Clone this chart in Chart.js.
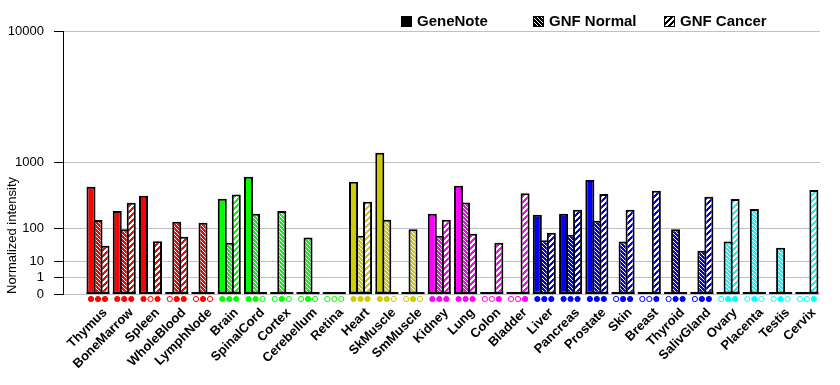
<!DOCTYPE html>
<html>
<head>
<meta charset="utf-8">
<script src="https://cdn.jsdelivr.net/npm/chart.js@4"></script>
<style>body{margin:0;background:#fff}</style>
</head>
<body>
<canvas id="chart" width="840" height="385"></canvas>
<script>
// tissues along the x axis
const tissues = ['Thymus', 'BoneMarrow', 'Spleen', 'WholeBlood', 'LymphNode',
  'Brain', 'SpinalCord', 'Cortex', 'Cerebellum', 'Retina',
  'Heart', 'SkMuscle', 'SmMuscle',
  'Kidney', 'Lung', 'Colon', 'Bladder',
  'Liver', 'Pancreas', 'Prostate', 'Skin', 'Breast', 'Thyroid', 'SalivGland',
  'Ovary', 'Placenta', 'Testis', 'Cervix'];

// normalized intensity, null = not measured
const geneNote = [508, 216, 380, null, null, 342, 682, null, null, null,
  590, 1265, null, 194, 523, null, null, 186, 194, 620,
  null, null, null, null, null, null, null, null];
const gnfNormal = [148, 95, null, 137, 131, 44, 194, 216, 60, null,
  67, 150, 95, 67, 301, null, null, 51, 71, 143,
  47, null, 95, 25, 47, 234, 31, null];
const gnfCancer = [36, 296, 48, 63, null, 397, null, null, null, null,
  307, null, null, 150, 75, 44, 412, 79, 228, 401,
  228, 447, 0, 367, 339, null, null, 458];

const yTickValues = [0, 1, 10, 100, 1000, 10000];

// colour per tissue group: [colour, number of tissues]
const groupColors = [['#ff0000', 5], ['#00ff00', 5], ['#cccc00', 3], ['#ff00ff', 4], ['#0000ff', 7], ['#00ffff', 4]];

const FONT = "'Liberation Sans', Arial, sans-serif";
// axis is a power scale: each decade takes twice the height of the one below
const POW = Math.log10(2);
const toT = v => (v === null ? null : Math.pow(v, POW));

const tissueColors = [];
groupColors.forEach(([c, n]) => { for (let i = 0; i < n; i++) tissueColors.push(c); });

function hatch(color, kind) {
  const size = kind === 'normal' ? 4 : 6;
  const c = document.createElement('canvas');
  c.width = size; c.height = size;
  const g = c.getContext('2d');
  g.fillStyle = color;
  g.fillRect(0, 0, size, size);
  g.fillStyle = '#fff';
  for (let x = 0; x < size; x++) {
    for (let y = 0; y < size; y++) {
      const on = kind === 'normal' ? (x - y + size) % size === 0 : (x + y) % size < 3;
      if (on) g.fillRect(x, y, 1, 1);
    }
  }
  return g.createPattern(c, 'repeat');
}

const series = [
  { label: 'GeneNote', values: geneNote, kind: 'solid' },
  { label: 'GNF Normal', values: gnfNormal, kind: 'normal' },
  { label: 'GNF Cancer', values: gnfCancer, kind: 'cancer' },
];

const groupMarks = {
  id: 'groupMarks',
  afterDatasetsDraw(chart) {
    const ctx = chart.ctx;
    const y0 = chart.scales.y.getPixelForValue(0);
    const metas = chart.data.datasets.map((d, k) => chart.getDatasetMeta(k));
    ctx.save();
    tissues.forEach((t, i) => {
      const first = metas[0].data[i];
      const last = metas[metas.length - 1].data[i];
      const left = first.x - first.width / 2;
      const right = last.x + last.width / 2;
      ctx.fillStyle = '#000';
      ctx.fillRect(left, y0 - 2, right - left, 2);
      metas.forEach((m, k) => {
        const el = m.data[i];
        const present = chart.data.datasets[k].raw[i] !== null;
        ctx.beginPath();
        ctx.arc(el.x, y0 + 5, 2.6, 0, Math.PI * 2);
        ctx.fillStyle = present ? tissueColors[i] : '#fff';
        ctx.fill();
        ctx.strokeStyle = tissueColors[i];
        ctx.lineWidth = 1;
        ctx.stroke();
      });
    });
    ctx.restore();
  },
  afterDraw(chart) {
    const ctx = chart.ctx;
    const legendX = [401, 533, 664];
    ctx.save();
    chart.data.datasets.forEach((d, k) => {
      const x = legendX[k], y = 16;
      ctx.fillStyle = d.kind === 'solid' ? '#000' : hatch('#000', d.kind);
      ctx.fillRect(x, y, 11, 11);
      ctx.strokeStyle = '#000';
      ctx.lineWidth = 1;
      ctx.strokeRect(x + 0.5, y + 0.5, 10, 10);
      ctx.fillStyle = '#000';
      ctx.font = 'bold 15px ' + FONT;
      ctx.textBaseline = 'middle';
      ctx.fillText(d.label, x + 16, y + 6);
    });
    ctx.restore();
  }
};

const ctx = document.getElementById('chart').getContext('2d');
const chart = new Chart(ctx, {
  type: 'bar',
  data: {
    datasets: series.map(s => ({
      label: s.label,
      data: s.values.map((v, i) => ({ x: i, y: toT(v) })),
      backgroundColor: tissueColors.map(c => (s.kind === 'solid' ? c : hatch(c, s.kind))),
      borderColor: '#000',
      borderWidth: 2,
      borderSkipped: false,
      barPercentage: 1.29,
      categoryPercentage: 0.8,
      kind: s.kind,
      raw: s.values,
    })),
  },
  options: {
    responsive: false,
    animation: false,
    layout: { padding: { top: 31, right: 20, bottom: 0, left: 0 } },
    plugins: { legend: { display: false }, tooltip: { enabled: false } },
    scales: {
      x: {
        type: 'linear',
        min: -1.333,
        max: 27.5,
        offset: false,
        afterBuildTicks: s => { s.ticks = tissues.map((t, i) => ({ value: i })); },
        afterFit: s => { s.height = 91; },
        ticks: {
          autoSkip: false,
          maxRotation: 45,
          minRotation: 45,
          callback: v => tissues[v],
          font: { family: FONT, size: 13, weight: 'bold' },
          color: '#000',
          padding: 11,
          labelOffset: 7,
        },
        grid: { display: false, drawTicks: false },
        border: { display: false },
      },
      y: {
        min: 0,
        max: toT(10000),
        afterBuildTicks: s => { s.ticks = yTickValues.map(v => ({ value: toT(v) })); },
        afterFit: s => { s.width = 63; },
        ticks: {
          autoSkip: false,
          callback: (v, i) => String(yTickValues[i]),
          font: { family: FONT, size: 13 },
          color: '#000',
          padding: 10,
        },
        grid: { color: '#c0c0c0', tickColor: '#000', tickLength: 9, lineWidth: 1 },
        border: { color: '#000', width: 1 },
        title: {
          display: true,
          text: 'Normalized intensity',
          align: 'start',
          font: { family: FONT, size: 13 },
          color: '#000',
          padding: { top: 5, bottom: 0 },
        },
      },
    },
  },
  plugins: [groupMarks],
});
</script>
</body>
</html>
